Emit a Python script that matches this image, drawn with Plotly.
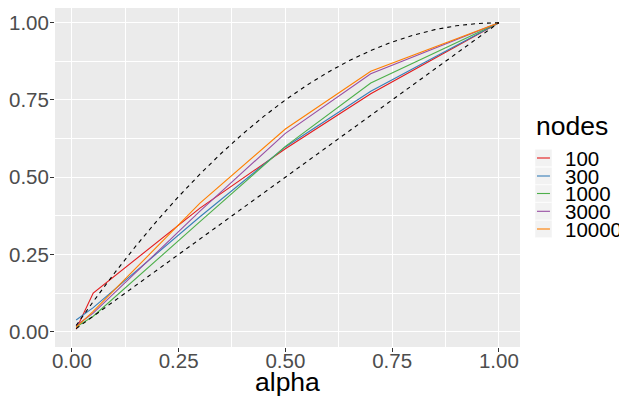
import plotly.graph_objects as go

# ---------------- data ----------------
alpha = [0.01, 0.05, 0.3, 0.5, 0.7, 1.0]
nodes = ["100", "300", "1000", "3000", "10000"]
val_100 = [0.008, 0.125, 0.400, 0.592, 0.770, 1.0]
val_300 = [0.038, 0.078, 0.372, 0.598, 0.778, 1.0]
val_1000 = [0.015, 0.050, 0.356, 0.600, 0.805, 1.0]
val_3000 = [0.020, 0.060, 0.390, 0.642, 0.835, 1.0]
val_10000 = [0.015, 0.066, 0.416, 0.656, 0.843, 1.0]
series = [val_100, val_300, val_1000, val_3000, val_10000]

bound_alpha = [0.01, 0.05, 0.1, 0.15, 0.2, 0.25, 0.3, 0.35, 0.4, 0.45, 0.5,
               0.55, 0.6, 0.65, 0.7, 0.75, 0.8, 0.85, 0.9, 0.95, 1.0]
upper_bound = [0.02, 0.0975, 0.19, 0.2775, 0.36, 0.4375, 0.51, 0.5775, 0.64,
               0.6975, 0.75, 0.7975, 0.84, 0.8775, 0.91, 0.9375, 0.96, 0.9775,
               0.99, 0.9975, 1.0]
lower_alpha = [0.01, 1.0]
lower_bound = [0.01, 1.0]

x_ticks = [0, 0.25, 0.5, 0.75, 1.0]
x_tick_labels = ["0.00", "0.25", "0.50", "0.75", "1.00"]
y_ticks = [0, 0.25, 0.5, 0.75, 1.0]
y_tick_labels = ["0.00", "0.25", "0.50", "0.75", "1.00"]

colors = ["#E41A1C", "#377EB8", "#4DAF4A", "#984EA3", "#FF7F00"]
FONT = "Liberation Sans, Arial, sans-serif"

fig = go.Figure()
for name, vals, c in zip(nodes, series, colors):
    fig.add_trace(go.Scatter(x=alpha, y=vals, mode="lines", name=name,
                             line=dict(color=c, width=1.1), showlegend=False))
fig.add_trace(go.Scatter(x=bound_alpha, y=upper_bound, mode="lines",
                         line=dict(color="black", width=1.1, dash="4px,4px"),
                         showlegend=False))
fig.add_trace(go.Scatter(x=lower_alpha, y=lower_bound, mode="lines",
                         line=dict(color="black", width=1.1, dash="4px,4px"),
                         showlegend=False))

# page adds an 8px body margin, so the figure is 8px smaller and offset
OFF = 8
W, H = 627 - OFF, 396 - OFF
ml, mr, mt, mb = 47, 106.5, 0, 49
pw, ph = W - ml - mr, H - mt - mb


def px(xp):  # xp: pixel in the 627x396 window
    return (xp - OFF - ml) / pw


def py(yp):
    return (H - mb - (yp - OFF)) / ph


anns = [
    dict(text="alpha", x=px(288), y=py(382), xref="paper", yref="paper",
         xanchor="center", yanchor="middle", showarrow=False,
         font=dict(family=FONT, size=26.5, color="black")),
    dict(text="nodes", x=px(534.5), y=py(126), xref="paper", yref="paper",
         xanchor="left", yanchor="middle", showarrow=False,
         font=dict(family=FONT, size=26.5, color="black")),
]
shapes = []
entry_y = [158, 176, 193.5, 211.3, 229]
for i, (name, c) in enumerate(zip(nodes, colors)):
    yc = entry_y[i]
    shapes.append(dict(type="rect", xref="paper", yref="paper",
                       x0=px(535.5), x1=px(552.5), y0=py(yc - 8.7), y1=py(yc + 8.7),
                       fillcolor="#F2F2F2", line=dict(color="white", width=0.5),
                       layer="above"))
    shapes.append(dict(type="line", xref="paper", yref="paper",
                       x0=px(537.5), x1=px(550.5), y0=py(yc), y1=py(yc),
                       line=dict(color=c, width=1.1), layer="above"))
    anns.append(dict(text=name, x=px(563.5), y=py(yc), xref="paper", yref="paper",
                     xanchor="left", yanchor="middle", showarrow=False,
                     font=dict(family=FONT, size=20.5, color="black")))

axis_common = dict(showgrid=True, gridcolor="white", gridwidth=1.1,
                   zeroline=False, showline=False, ticks="outside", ticklen=4,
                   tickcolor="#333333", tickwidth=1, automargin=False,
                   tickfont=dict(family=FONT, size=20.5, color="#4D4D4D"),
                   minor=dict(dtick=0.125, tick0=0.125, showgrid=True,
                              gridcolor="white", gridwidth=0.5, ticks=""))

fig.update_layout(
    width=W, height=H,
    margin=dict(l=ml, r=mr, t=mt, b=mb, pad=0, autoexpand=False),
    paper_bgcolor="white", plot_bgcolor="#EBEBEB",
    showlegend=False,
    xaxis=dict(range=[-0.0395, 1.0495], tickvals=x_ticks, ticktext=x_tick_labels,
               ticklabelstandoff=-9, **axis_common),
    yaxis=dict(range=[-0.0495, 1.0476], tickvals=y_ticks, ticktext=y_tick_labels,
               ticklabelstandoff=-3, **axis_common),
    annotations=anns, shapes=shapes,
)

fig.write_html("out.html")
